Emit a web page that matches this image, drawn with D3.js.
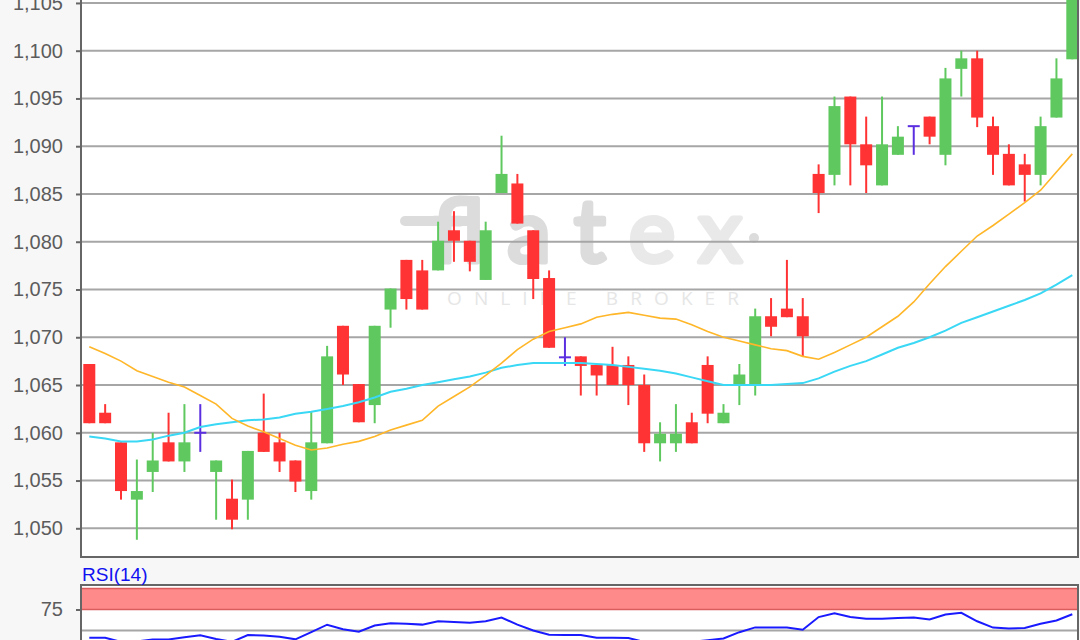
<!DOCTYPE html>
<html><head><meta charset="utf-8">
<script src="https://cdn.jsdelivr.net/npm/d3@7"></script>
<style>html,body{margin:0;padding:0;background:#f7f7f7;} svg{display:block;}</style>
</head><body><svg id="c" width="1080" height="640"></svg>
<script>
// ---- data (quotes) ----
const openP  = [1.0672,1.0621,1.0590,1.0530,1.0559,1.0590,1.0570,1.0600,1.0559,1.0531,1.0530,1.0600,1.0590,1.0571,1.0539,1.0589,1.0712,1.0651,1.0629,1.0729,1.0781,1.0770,1.0770,1.0812,1.0801,1.0760,1.0851,1.0861,1.0812,1.0762,1.0679,1.0680,1.0671,1.0671,1.0671,1.0650,1.0589,1.0589,1.0611,1.0671,1.0610,1.0651,1.0651,1.0722,1.0730,1.0722,1.0871,1.0870,1.0952,1.0902,1.0859,1.0891,1.0921,1.0931,1.0891,1.0981,1.0992,1.0921,1.0892,1.0881,1.0870,1.0930,1.0991];
const highP  = [1.0672,1.0630,1.0590,1.0572,1.0600,1.0621,1.0630,1.0630,1.0571,1.0551,1.0581,1.0641,1.0600,1.0571,1.0622,1.0691,1.0712,1.0651,1.0712,1.0751,1.0781,1.0781,1.0821,1.0832,1.0801,1.0821,1.0911,1.0871,1.0812,1.0770,1.0700,1.0680,1.0671,1.0690,1.0680,1.0661,1.0611,1.0630,1.0621,1.0680,1.0630,1.0672,1.0730,1.0741,1.0781,1.0741,1.0881,1.0952,1.0952,1.0931,1.0952,1.0921,1.0921,1.0931,1.0982,1.1000,1.1000,1.0931,1.0902,1.0892,1.0931,1.0992,1.1070];
const lowP   = [1.0610,1.0610,1.0530,1.0488,1.0538,1.0570,1.0559,1.0580,1.0509,1.0499,1.0509,1.0580,1.0559,1.0538,1.0530,1.0589,1.0650,1.0611,1.0610,1.0710,1.0729,1.0729,1.0770,1.0779,1.0769,1.0760,1.0851,1.0819,1.0740,1.0689,1.0670,1.0639,1.0639,1.0650,1.0629,1.0580,1.0570,1.0580,1.0589,1.0610,1.0610,1.0629,1.0639,1.0701,1.0721,1.0680,1.0830,1.0859,1.0859,1.0851,1.0859,1.0891,1.0891,1.0902,1.0880,1.0952,1.0920,1.0870,1.0859,1.0842,1.0859,1.0930,1.0991];
const closeP = [1.0610,1.0610,1.0539,1.0539,1.0571,1.0570,1.0590,1.0600,1.0571,1.0509,1.0581,1.0580,1.0570,1.0549,1.0590,1.0680,1.0661,1.0611,1.0712,1.0751,1.0740,1.0729,1.0801,1.0801,1.0779,1.0812,1.0871,1.0819,1.0761,1.0689,1.0679,1.0670,1.0660,1.0650,1.0650,1.0589,1.0599,1.0599,1.0589,1.0620,1.0621,1.0661,1.0722,1.0711,1.0721,1.0701,1.0851,1.0942,1.0902,1.0880,1.0902,1.0910,1.0921,1.0910,1.0971,1.0992,1.0930,1.0891,1.0859,1.0870,1.0921,1.0971,1.1065];
const maFast = [1.0690,1.0683,1.0675,1.0665,1.0659,1.0653,1.0648,1.0639,1.0630,1.0615,1.0607,1.0601,1.0594,1.0587,1.0582,1.0584,1.0588,1.0591,1.0596,1.0603,1.0608,1.0613,1.0628,1.0638,1.0648,1.0660,1.0673,1.0687,1.0698,1.0706,1.0710,1.0714,1.0721,1.0724,1.0726,1.0723,1.0720,1.0719,1.0713,1.0706,1.0700,1.0696,1.0692,1.0688,1.0686,1.0680,1.0677,1.0684,1.0692,1.0700,1.0711,1.0722,1.0737,1.0756,1.0774,1.0790,1.0806,1.0817,1.0829,1.0841,1.0854,1.0873,1.0892];
const maSlow = [1.0596,1.0594,1.0591,1.0591,1.0593,1.0597,1.0600,1.0606,1.0609,1.0611,1.0613,1.0614,1.0616,1.0620,1.0622,1.0625,1.0628,1.0632,1.0637,1.0643,1.0646,1.0650,1.0653,1.0656,1.0659,1.0663,1.0668,1.0671,1.0673,1.0673,1.0673,1.0673,1.0672,1.0671,1.0669,1.0667,1.0665,1.0662,1.0658,1.0654,1.0650,1.0650,1.0650,1.0650,1.0651,1.0652,1.0657,1.0664,1.0670,1.0675,1.0682,1.0689,1.0694,1.0700,1.0707,1.0715,1.0721,1.0727,1.0733,1.0739,1.0746,1.0755,1.0765];
const rsiVals = [41.3,41.3,36.5,37.0,39.3,39.3,42.0,44.3,40.0,36.5,44.6,44.0,42.5,39.5,48.0,56.9,51.5,48.5,56.0,58.5,58.0,57.0,61.0,60.0,59.3,61.0,65.5,57.0,50.0,45.0,44.6,44.6,41.3,41.3,41.0,36.4,36.4,36.4,36.4,38.5,40.5,48.0,53.7,53.7,53.5,51.0,66.0,70.5,66.0,64.0,64.0,65.0,65.5,63.1,69.0,71.0,61.0,53.5,52.4,53.0,58.0,61.9,69.3];
const priceTicks = [1.050,1.055,1.060,1.065,1.070,1.075,1.080,1.085,1.090,1.095,1.100,1.105];
const rsiTicks = [75];
const rsiGrid = [50];
const rsiZone = [75,100];
const rsiLabel = "RSI(14)";

// ---- layout ----
const svg = d3.select("#c");
const L = 81, R = 1078, B = 557;
const idx = d3.range(openP.length);
const x = d3.scaleLinear().domain([0, 62]).range([89.3, 1072.3]);
const y = d3.scaleLinear().domain([1.050, 1.100]).range([528.3, 50.7]);
const yR = d3.scaleLinear().domain([50, 75]).range([630.5, 609.5]);
const loc = d3.formatLocale({decimal: ",", thousands: ".", grouping: [3], currency: ["", "€"]});
const fmt = loc.format(".3f");
const FONT = "'Liberation Sans', Arial, sans-serif";

svg.append("rect").attr("width", 1080).attr("height", 640).attr("fill", "#f7f7f7");

const defs = svg.append("defs");
defs.append("clipPath").attr("id", "pc").append("rect")
  .attr("x", L).attr("y", -50).attr("width", R - L).attr("height", B + 50);
defs.append("clipPath").attr("id", "rc").append("rect")
  .attr("x", L).attr("y", 585).attr("width", R - L).attr("height", 60);

// price panel
svg.append("rect").attr("x", L).attr("y", -10).attr("width", R - L).attr("height", B + 10).attr("fill", "#fff");

// watermark
const wm = svg.append("g").attr("clip-path", "url(#pc)");
wm.append("line").attr("x1", 405).attr("x2", 470).attr("y1", 221).attr("y2", 221)
  .attr("stroke", "#dcdcdc").attr("stroke-width", 10).attr("stroke-linecap", "round");
const wt = wm.append("text").attr("x", 432).attr("y", 262)
  .attr("font-family", "Lato, 'Open Sans', sans-serif").attr("font-size", 88)
  .attr("stroke-width", 5).attr("stroke-linejoin", "round")
  .attr("textLength", 310).attr("lengthAdjust", "spacing");
wt.append("tspan").text("flat").attr("fill", "#dcdcdc").attr("stroke", "#dcdcdc");
wt.append("tspan").text("ex").attr("fill", "#e9e9e9").attr("stroke", "#e9e9e9");
wm.append("circle").attr("cx", 754).attr("cy", 238).attr("r", 5).attr("fill", "#dcdcdc");
wm.append("text").attr("x", 447).attr("y", 305).text("ONLINE BROKER")
  .attr("font-family", "'Open Sans', sans-serif").attr("font-size", 19)
  .attr("fill", "#e6e6e6").attr("textLength", 292).attr("lengthAdjust", "spacing");

// grid
svg.append("g").selectAll("line").data(priceTicks).join("line")
  .attr("x1", L).attr("x2", R).attr("y1", d => y(d)).attr("y2", d => y(d))
  .attr("stroke", "#a6a6a6").attr("stroke-width", 2);

// candles
const cg = svg.append("g").attr("clip-path", "url(#pc)");
const colorOf = i => closeP[i] > openP[i] ? "#5fc95f" : (closeP[i] < openP[i] ? "#ff3333" : "#5b2fe0");
cg.selectAll("line.wick").data(idx).join("line").attr("class", "wick")
  .attr("x1", i => x(i)).attr("x2", i => x(i))
  .attr("y1", i => y(highP[i])).attr("y2", i => y(lowP[i]))
  .attr("stroke", colorOf).attr("stroke-width", 2);
const bw = 12;
cg.selectAll("rect.body").data(idx.filter(i => closeP[i] !== openP[i])).join("rect").attr("class", "body")
  .attr("x", i => x(i) - bw / 2).attr("width", bw)
  .attr("y", i => y(Math.max(openP[i], closeP[i])))
  .attr("height", i => Math.max(1, Math.abs(y(openP[i]) - y(closeP[i]))))
  .attr("fill", colorOf);
cg.selectAll("line.doji").data(idx.filter(i => closeP[i] === openP[i])).join("line").attr("class", "doji")
  .attr("x1", i => x(i) - 6).attr("x2", i => x(i) + 6)
  .attr("y1", i => y(openP[i])).attr("y2", i => y(openP[i]))
  .attr("stroke", colorOf).attr("stroke-width", 2);

// moving averages
const mk = arr => d3.line().x(i => x(i)).y(i => y(arr[i]));
cg.append("path").attr("d", mk(maSlow)(idx)).attr("fill", "none").attr("stroke", "#3ad8f5").attr("stroke-width", 2);
cg.append("path").attr("d", mk(maFast)(idx)).attr("fill", "none").attr("stroke", "#ffb628").attr("stroke-width", 1.6);

// price axis
const ax = svg.append("g").attr("transform", `translate(${L},0)`)
  .call(d3.axisLeft(y).tickValues(priceTicks).tickFormat(fmt).tickSize(5).tickPadding(13));
ax.select(".domain").remove();
ax.selectAll(".tick line").attr("stroke", "#666").attr("stroke-width", 2);
ax.selectAll(".tick text").attr("font-family", FONT).attr("font-size", 20).attr("fill", "#5c5c5c");

// borders
svg.append("line").attr("x1", L).attr("x2", L).attr("y1", 0).attr("y2", B + 1).attr("stroke", "#666").attr("stroke-width", 2);
svg.append("line").attr("x1", R).attr("x2", R).attr("y1", 0).attr("y2", B + 1).attr("stroke", "#666").attr("stroke-width", 2);
svg.append("line").attr("x1", L - 1).attr("x2", R + 1).attr("y1", B).attr("y2", B).attr("stroke", "#666").attr("stroke-width", 2);

// RSI panel
const rTop = 585;
svg.append("rect").attr("x", L).attr("y", rTop).attr("width", R - L).attr("height", 640 - rTop).attr("fill", "#fff");
svg.append("rect").attr("x", L).attr("y", yR(rsiZone[1])).attr("width", R - L)
  .attr("height", yR(rsiZone[0]) - yR(rsiZone[1])).attr("fill", "#ff8a8a");
svg.append("g").selectAll("line").data(rsiZone).join("line")
  .attr("x1", L).attr("x2", R).attr("y1", d => yR(d)).attr("y2", d => yR(d))
  .attr("stroke", "#d95d5d").attr("stroke-width", 1.5);
svg.append("g").selectAll("line").data(rsiGrid).join("line")
  .attr("x1", L).attr("x2", R).attr("y1", d => yR(d)).attr("y2", d => yR(d))
  .attr("stroke", "#a6a6a6").attr("stroke-width", 2);
svg.append("g").attr("clip-path", "url(#rc)").append("path")
  .attr("d", d3.line().x(i => x(i)).y(i => yR(rsiVals[i]))(idx))
  .attr("fill", "none").attr("stroke", "#1a1aff").attr("stroke-width", 2);
const ar = svg.append("g").attr("transform", `translate(${L},0)`)
  .call(d3.axisLeft(yR).tickValues(rsiTicks).tickSize(5).tickPadding(13));
ar.select(".domain").remove();
ar.selectAll(".tick line").attr("stroke", "#666").attr("stroke-width", 2);
ar.selectAll(".tick text").attr("font-family", FONT).attr("font-size", 20).attr("fill", "#5c5c5c");
svg.append("line").attr("x1", L - 1).attr("x2", R + 1).attr("y1", rTop).attr("y2", rTop).attr("stroke", "#666").attr("stroke-width", 2);
svg.append("line").attr("x1", L).attr("x2", L).attr("y1", rTop).attr("y2", 640).attr("stroke", "#666").attr("stroke-width", 2);
svg.append("line").attr("x1", R).attr("x2", R).attr("y1", rTop).attr("y2", 640).attr("stroke", "#666").attr("stroke-width", 2);
svg.append("text").attr("x", 82).attr("y", 581).text(rsiLabel)
  .attr("font-family", FONT).attr("font-size", 19).attr("fill", "#1010f0");
</script></body></html>
